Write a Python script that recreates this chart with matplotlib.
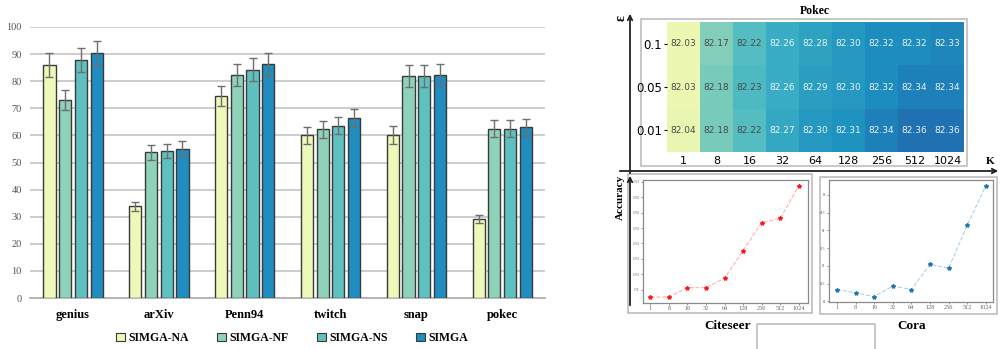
import numpy as np
import matplotlib
matplotlib.use("Agg")
import matplotlib.pyplot as plt
from matplotlib.patches import Rectangle, Patch

W, H = 1005, 349

# ---- data ----
datasets = ["genius", "arXiv", "Penn94", "twitch", "snap", "pokec"]
variants = ["SIMGA-NA", "SIMGA-NF", "SIMGA-NS", "SIMGA"]
scores = {
    "SIMGA-NA": [86.0, 33.8, 74.7, 60.0, 60.0, 29.2],
    "SIMGA-NF": [73.1, 53.7, 82.4, 62.3, 81.9, 62.5],
    "SIMGA-NS": [87.9, 54.3, 84.3, 63.6, 81.9, 62.5],
    "SIMGA":    [90.5, 55.1, 86.2, 66.5, 82.2, 63.0],
}
errors = {
    "SIMGA-NA": [4.3, 1.7, 3.7, 3.0, 3.3, 1.5],
    "SIMGA-NF": [3.7, 2.7, 4.1, 3.1, 4.1, 3.1],
    "SIMGA-NS": [4.4, 2.7, 4.3, 3.2, 4.1, 3.1],
    "SIMGA":    [4.5, 2.8, 4.3, 3.3, 4.1, 3.2],
}
bar_colors = ["#eef8b8", "#8ed2b9", "#5fc0c0", "#1f8dc0"]

k_labels = ["1", "8", "16", "32", "64", "128", "256", "512", "1024"]
eps_labels = ["0.1", "0.05", "0.01"]
pokec_acc = np.array([
    [82.03, 82.17, 82.22, 82.26, 82.28, 82.30, 82.32, 82.32, 82.33],
    [82.03, 82.18, 82.23, 82.26, 82.29, 82.30, 82.32, 82.34, 82.34],
    [82.04, 82.18, 82.22, 82.27, 82.30, 82.31, 82.34, 82.36, 82.36],
])

citeseer_acc = [0.73952, 0.73952, 0.74013, 0.74013, 0.74074, 0.74254, 0.74435, 0.74463, 0.74674]
citeseer_ticks = [0.740, 0.741, 0.742, 0.743, 0.744, 0.745, 0.746, 0.747]
cora_acc = [86.33, 86.24, 86.13, 86.43, 86.33, 87.04, 86.93, 88.14, 89.26]
cora_ticks = [86.0, 86.5, 87.0, 87.5, 88.0, 88.5, 89.0]


def px(x0, y0, x1, y1):
    return [x0 / W, 1 - y1 / H, (x1 - x0) / W, (y1 - y0) / H]


serif = "Liberation Serif"
fig = plt.figure(figsize=(W / 100, H / 100), dpi=100)

# ---- grouped bar chart ----
ax = fig.add_axes(px(30, 27, 545, 298))
x = np.arange(len(datasets))
offsets = [-0.273, -0.09, 0.093, 0.276]
for name, off, col in zip(variants, offsets, bar_colors):
    ax.bar(x + off, scores[name], width=0.142, color=col, edgecolor="#3a3a3a",
           linewidth=1.0, zorder=3)
    ax.errorbar(x + off, scores[name], yerr=errors[name], fmt="none",
                ecolor="#6e6e6e", elinewidth=1.0, capsize=3, capthick=1.0, zorder=4)
ax.set_xlim(-0.5, 5.5)
ax.set_ylim(0, 100)
ax.set_yticks(range(0, 101, 10))
ax.yaxis.grid(True, color="#c8c8c8", linewidth=1.3, zorder=0)
for s in ["top", "right", "left"]:
    ax.spines[s].set_visible(False)
ax.spines["bottom"].set_color("#b0b0b0")
ax.spines["bottom"].set_linewidth(1.3)
ax.tick_params(axis="both", length=0, pad=6)
ax.set_xticks(x)
ax.set_xticklabels(datasets, fontfamily=serif, fontweight="bold", fontsize=9)
ax.tick_params(axis="x", pad=8)
for t in ax.get_yticklabels():
    t.set_fontfamily(serif)
    t.set_fontsize(7.5)
    t.set_color("#555555")

handles = [Patch(facecolor=c, edgecolor="#3a3a3a", linewidth=0.8) for c in bar_colors]
fig.legend(handles, variants, loc="center", bbox_to_anchor=(292 / W, 1 - 338 / H),
           ncol=4, frameon=False, handlelength=0.75, handleheight=0.75,
           handletextpad=0.3, columnspacing=2.4,
           prop={"family": serif, "weight": "bold", "size": 8.5})

# ---- overlay for frames ----
ov = fig.add_axes([0, 0, 1, 1], zorder=-1)
ov.set_xlim(0, W)
ov.set_ylim(H, 0)
ov.axis("off")
ov.add_patch(Rectangle((641, 19), 326, 147, fill=False, edgecolor="#bdbdbd", lw=1.2))
ov.add_patch(Rectangle((628, 174), 184, 139, fill=False, edgecolor="#bdbdbd", lw=1.2))
ov.add_patch(Rectangle((820, 177), 177, 137, fill=False, edgecolor="#bdbdbd", lw=1.2))
ov.plot([757, 757, 875, 875], [349, 324, 324, 349], color="#bdbdbd", lw=1.2)

# ---- overlay for arrows and labels ----
ov2 = fig.add_axes([0, 0, 1, 1], zorder=10)
ov2.set_xlim(0, W)
ov2.set_ylim(H, 0)
ov2.axis("off")
ov2.patch.set_alpha(0)
arrow = dict(arrowstyle="->", color="#222222", lw=1.3, mutation_scale=8)
ov2.annotate("", xy=(630, 11), xytext=(630, 176), arrowprops=arrow)
ov2.annotate("", xy=(1001, 171), xytext=(617, 171), arrowprops=arrow)
ov2.annotate("", xy=(630, 173), xytext=(630, 308), arrowprops=arrow)
ov2.text(621, 18, "ε", rotation=90, ha="center", va="center", fontsize=10,
         fontweight="bold", fontfamily=serif)
ov2.text(990, 162, "K", ha="center", va="center", fontsize=8,
         fontweight="bold", fontfamily=serif)
ov2.text(620, 197, "Accuracy", rotation=90, ha="center", va="center", fontsize=8,
         fontweight="bold", fontfamily=serif)
ov2.text(815, 11, "Pokec", ha="center", va="center", fontsize=8.5,
         fontweight="bold", fontfamily=serif)
ov2.text(728, 326, "Citeseer", ha="center", va="center", fontsize=9.5,
         fontweight="bold", fontfamily=serif)
ov2.text(912, 326, "Cora", ha="center", va="center", fontsize=9.5,
         fontweight="bold", fontfamily=serif)

# ---- heatmap ----
hm = fig.add_axes(px(667, 22, 964, 152))
hm.imshow(pokec_acc, cmap="YlGnBu", vmin=81.958, vmax=82.53, aspect="auto")
for i in range(pokec_acc.shape[0]):
    for j in range(pokec_acc.shape[1]):
        v = pokec_acc[i, j]
        hm.text(j, i, f"{v:.2f}", ha="center", va="center", fontsize=6.5,
                color="#4a4a4a" if j < 3 else "#e8f2f8")
hm.set_xticks(range(len(k_labels)))
hm.set_xticklabels(k_labels, fontsize=8)
hm.set_yticks(range(len(eps_labels)))
hm.set_yticklabels(eps_labels, fontsize=8.5)
hm.tick_params(axis="x", length=0, pad=3)
hm.tick_params(axis="y", length=2.5, pad=1)
for s in hm.spines.values():
    s.set_visible(False)


# ---- small line plots ----
def small_plot(rect, vals, ticks, color, ylim, xlim):
    a = fig.add_axes(rect)
    xs = np.arange(len(k_labels))
    a.plot(xs, vals, color=color, alpha=0.35, lw=0.8, ls="--", zorder=2)
    a.plot(xs, vals, ls="none", marker="*", ms=3, color=color, zorder=3)
    a.set_xticks(xs)
    a.set_xticklabels(k_labels, fontsize=4.5, fontfamily=serif, color="#444444")
    a.set_yticks(ticks)
    a.set_yticklabels([f"{t:g}" for t in ticks], fontsize=1.8, color="#777777")
    a.set_ylim(*ylim)
    a.set_xlim(*xlim)
    a.tick_params(length=1.5, width=0.5, pad=1, colors="#666666")
    for s in a.spines.values():
        s.set_color("#8a8a8a")
        s.set_linewidth(0.9)
    return a


small_plot(px(643, 180, 808, 303), citeseer_acc, citeseer_ticks, "#ff1a1a",
           (0.73913, 0.74713), (-0.4, 8.5))
small_plot(px(829, 180, 993, 302), cora_acc, cora_ticks, "#1f77b4",
           (85.98, 89.42), (-0.43, 8.39))

fig.savefig("out.png", dpi=100)
